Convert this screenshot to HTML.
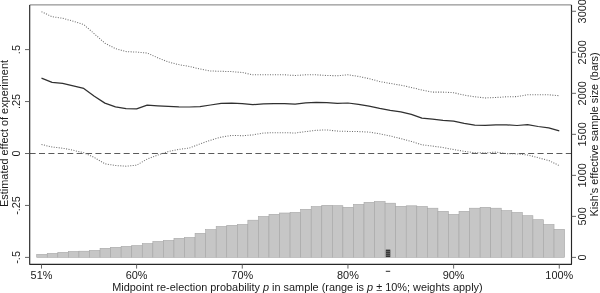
<!DOCTYPE html>
<html><head><meta charset="utf-8"><style>
html,body{margin:0;padding:0;background:#fff;width:600px;height:293px;overflow:hidden}
svg{display:block;filter:grayscale(100%)}
text{font-family:"Liberation Sans",sans-serif;font-size:10.9px;fill:#1a1a1a}
</style></head><body>
<svg width="600" height="293" viewBox="0 0 600 293">
<rect width="600" height="293" fill="#fff"/>
<rect x="36.70" y="254.40" width="10.558" height="2.90" fill="#c6c6c6" stroke="#a6a6a6" stroke-width="0.6"/>
<rect x="47.26" y="253.40" width="10.558" height="3.90" fill="#c6c6c6" stroke="#a6a6a6" stroke-width="0.6"/>
<rect x="57.82" y="252.40" width="10.558" height="4.90" fill="#c6c6c6" stroke="#a6a6a6" stroke-width="0.6"/>
<rect x="68.37" y="251.50" width="10.558" height="5.80" fill="#c6c6c6" stroke="#a6a6a6" stroke-width="0.6"/>
<rect x="78.93" y="251.20" width="10.558" height="6.10" fill="#c6c6c6" stroke="#a6a6a6" stroke-width="0.6"/>
<rect x="89.49" y="250.40" width="10.558" height="6.90" fill="#c6c6c6" stroke="#a6a6a6" stroke-width="0.6"/>
<rect x="100.05" y="248.30" width="10.558" height="9.00" fill="#c6c6c6" stroke="#a6a6a6" stroke-width="0.6"/>
<rect x="110.61" y="247.30" width="10.558" height="10.00" fill="#c6c6c6" stroke="#a6a6a6" stroke-width="0.6"/>
<rect x="121.16" y="246.40" width="10.558" height="10.90" fill="#c6c6c6" stroke="#a6a6a6" stroke-width="0.6"/>
<rect x="131.72" y="245.60" width="10.558" height="11.70" fill="#c6c6c6" stroke="#a6a6a6" stroke-width="0.6"/>
<rect x="142.28" y="243.60" width="10.558" height="13.70" fill="#c6c6c6" stroke="#a6a6a6" stroke-width="0.6"/>
<rect x="152.84" y="241.50" width="10.558" height="15.80" fill="#c6c6c6" stroke="#a6a6a6" stroke-width="0.6"/>
<rect x="163.40" y="240.40" width="10.558" height="16.90" fill="#c6c6c6" stroke="#a6a6a6" stroke-width="0.6"/>
<rect x="173.95" y="238.40" width="10.558" height="18.90" fill="#c6c6c6" stroke="#a6a6a6" stroke-width="0.6"/>
<rect x="184.51" y="237.50" width="10.558" height="19.80" fill="#c6c6c6" stroke="#a6a6a6" stroke-width="0.6"/>
<rect x="195.07" y="233.30" width="10.558" height="24.00" fill="#c6c6c6" stroke="#a6a6a6" stroke-width="0.6"/>
<rect x="205.63" y="229.60" width="10.558" height="27.70" fill="#c6c6c6" stroke="#a6a6a6" stroke-width="0.6"/>
<rect x="216.19" y="226.50" width="10.558" height="30.80" fill="#c6c6c6" stroke="#a6a6a6" stroke-width="0.6"/>
<rect x="226.74" y="225.30" width="10.558" height="32.00" fill="#c6c6c6" stroke="#a6a6a6" stroke-width="0.6"/>
<rect x="237.30" y="224.50" width="10.558" height="32.80" fill="#c6c6c6" stroke="#a6a6a6" stroke-width="0.6"/>
<rect x="247.86" y="220.20" width="10.558" height="37.10" fill="#c6c6c6" stroke="#a6a6a6" stroke-width="0.6"/>
<rect x="258.42" y="216.50" width="10.558" height="40.80" fill="#c6c6c6" stroke="#a6a6a6" stroke-width="0.6"/>
<rect x="268.98" y="214.30" width="10.558" height="43.00" fill="#c6c6c6" stroke="#a6a6a6" stroke-width="0.6"/>
<rect x="279.53" y="213.00" width="10.558" height="44.30" fill="#c6c6c6" stroke="#a6a6a6" stroke-width="0.6"/>
<rect x="290.09" y="212.40" width="10.558" height="44.90" fill="#c6c6c6" stroke="#a6a6a6" stroke-width="0.6"/>
<rect x="300.65" y="209.30" width="10.558" height="48.00" fill="#c6c6c6" stroke="#a6a6a6" stroke-width="0.6"/>
<rect x="311.21" y="206.60" width="10.558" height="50.70" fill="#c6c6c6" stroke="#a6a6a6" stroke-width="0.6"/>
<rect x="321.77" y="205.30" width="10.558" height="52.00" fill="#c6c6c6" stroke="#a6a6a6" stroke-width="0.6"/>
<rect x="332.32" y="205.70" width="10.558" height="51.60" fill="#c6c6c6" stroke="#a6a6a6" stroke-width="0.6"/>
<rect x="342.88" y="207.30" width="10.558" height="50.00" fill="#c6c6c6" stroke="#a6a6a6" stroke-width="0.6"/>
<rect x="353.44" y="204.40" width="10.558" height="52.90" fill="#c6c6c6" stroke="#a6a6a6" stroke-width="0.6"/>
<rect x="364.00" y="202.30" width="10.558" height="55.00" fill="#c6c6c6" stroke="#a6a6a6" stroke-width="0.6"/>
<rect x="374.56" y="201.50" width="10.558" height="55.80" fill="#c6c6c6" stroke="#a6a6a6" stroke-width="0.6"/>
<rect x="385.11" y="203.20" width="10.558" height="54.10" fill="#c6c6c6" stroke="#a6a6a6" stroke-width="0.6"/>
<rect x="395.67" y="206.30" width="10.558" height="51.00" fill="#c6c6c6" stroke="#a6a6a6" stroke-width="0.6"/>
<rect x="406.23" y="205.80" width="10.558" height="51.50" fill="#c6c6c6" stroke="#a6a6a6" stroke-width="0.6"/>
<rect x="416.79" y="206.50" width="10.558" height="50.80" fill="#c6c6c6" stroke="#a6a6a6" stroke-width="0.6"/>
<rect x="427.35" y="208.20" width="10.558" height="49.10" fill="#c6c6c6" stroke="#a6a6a6" stroke-width="0.6"/>
<rect x="437.90" y="211.30" width="10.558" height="46.00" fill="#c6c6c6" stroke="#a6a6a6" stroke-width="0.6"/>
<rect x="448.46" y="214.40" width="10.558" height="42.90" fill="#c6c6c6" stroke="#a6a6a6" stroke-width="0.6"/>
<rect x="459.02" y="211.30" width="10.558" height="46.00" fill="#c6c6c6" stroke="#a6a6a6" stroke-width="0.6"/>
<rect x="469.58" y="208.20" width="10.558" height="49.10" fill="#c6c6c6" stroke="#a6a6a6" stroke-width="0.6"/>
<rect x="480.14" y="207.30" width="10.558" height="50.00" fill="#c6c6c6" stroke="#a6a6a6" stroke-width="0.6"/>
<rect x="490.69" y="208.20" width="10.558" height="49.10" fill="#c6c6c6" stroke="#a6a6a6" stroke-width="0.6"/>
<rect x="501.25" y="210.60" width="10.558" height="46.70" fill="#c6c6c6" stroke="#a6a6a6" stroke-width="0.6"/>
<rect x="511.81" y="212.50" width="10.558" height="44.80" fill="#c6c6c6" stroke="#a6a6a6" stroke-width="0.6"/>
<rect x="522.37" y="215.70" width="10.558" height="41.60" fill="#c6c6c6" stroke="#a6a6a6" stroke-width="0.6"/>
<rect x="532.93" y="219.70" width="10.558" height="37.60" fill="#c6c6c6" stroke="#a6a6a6" stroke-width="0.6"/>
<rect x="543.48" y="224.50" width="10.558" height="32.80" fill="#c6c6c6" stroke="#a6a6a6" stroke-width="0.6"/>
<rect x="554.04" y="229.30" width="10.558" height="28.00" fill="#c6c6c6" stroke="#a6a6a6" stroke-width="0.6"/>
<rect x="385.8" y="249.6" width="4.5" height="7.5" fill="#333"/>
<line x1="385.8" x2="390.3" y1="251.5" y2="251.5" stroke="#8a8a8a" stroke-width="0.55"/>
<line x1="385.8" x2="390.3" y1="253.4" y2="253.4" stroke="#8a8a8a" stroke-width="0.55"/>
<line x1="385.8" x2="390.3" y1="255.3" y2="255.3" stroke="#8a8a8a" stroke-width="0.55"/>
<line x1="29.7" x2="571.5" y1="153.5" y2="153.5" stroke="#5a5a5a" stroke-width="1.1" stroke-dasharray="6.0 3.407" stroke-dashoffset="0.1"/>
<polyline points="41.50,11.70 52.07,16.70 62.63,18.30 73.20,21.20 83.77,24.60 94.34,33.80 104.90,43.20 115.47,48.60 126.04,51.60 136.60,52.10 147.17,53.00 157.74,57.80 168.30,62.00 178.87,64.60 189.44,66.50 200.00,69.00 210.57,71.00 221.14,71.30 231.71,71.60 242.27,72.50 252.84,74.80 263.41,74.80 273.97,74.80 284.54,74.80 295.11,75.50 305.68,74.80 316.24,74.80 326.81,75.50 337.38,75.70 347.94,74.80 358.51,76.40 369.08,78.60 379.64,81.60 390.21,83.40 400.78,85.20 411.35,87.50 421.91,90.00 432.48,92.10 443.05,92.10 453.61,92.70 464.18,95.20 474.75,96.80 485.31,97.90 495.88,97.50 506.45,96.80 517.01,96.60 527.58,94.80 538.15,94.80 548.72,94.80 559.28,95.70" fill="none" stroke="#707070" stroke-width="1.05" stroke-dasharray="1.05 1.45"/>
<polyline points="41.50,144.50 52.07,147.00 62.63,148.20 73.20,150.30 83.77,152.70 94.34,157.50 104.90,163.80 115.47,165.50 126.04,166.20 136.60,165.20 147.17,159.10 157.74,155.00 168.30,151.60 178.87,149.40 189.44,148.00 200.00,143.90 210.57,140.20 221.14,137.10 231.71,135.40 242.27,135.70 252.84,134.90 263.41,133.00 273.97,132.70 284.54,132.70 295.11,133.00 305.68,131.60 316.24,130.30 326.81,129.90 337.38,131.10 347.94,131.40 358.51,131.60 369.08,132.10 379.64,133.80 390.21,136.00 400.78,138.60 411.35,141.40 421.91,144.80 432.48,146.10 443.05,147.50 453.61,149.60 464.18,151.30 474.75,152.80 485.31,152.90 495.88,152.10 506.45,153.60 517.01,153.90 527.58,155.00 538.15,157.70 548.72,160.50 559.28,165.60" fill="none" stroke="#707070" stroke-width="1.05" stroke-dasharray="1.05 1.45"/>
<polyline points="41.50,78.20 52.07,82.30 62.63,83.40 73.20,85.90 83.77,88.40 94.34,96.30 104.90,103.10 115.47,106.90 126.04,108.70 136.60,108.90 147.17,105.10 157.74,105.80 168.30,106.40 178.87,106.90 189.44,107.00 200.00,106.60 210.57,105.00 221.14,103.40 231.71,103.20 242.27,103.60 252.84,104.70 263.41,103.90 273.97,103.60 284.54,103.70 295.11,104.20 305.68,102.90 316.24,102.40 326.81,102.60 337.38,103.40 347.94,103.00 358.51,104.30 369.08,106.20 379.64,108.40 390.21,110.30 400.78,111.80 411.35,114.30 421.91,118.20 432.48,119.20 443.05,120.30 453.61,121.10 464.18,123.30 474.75,125.10 485.31,125.40 495.88,124.80 506.45,124.90 517.01,125.50 527.58,124.60 538.15,126.50 548.72,127.90 559.28,130.90" fill="none" stroke="#303030" stroke-width="1.25" stroke-linejoin="round"/>
<line x1="29.7" x2="571.5" y1="4.9" y2="4.9" stroke="#7a7a7a" stroke-width="1"/>
<path d="M29.7,4.9 V264.3 H571.5 V4.9" fill="none" stroke="#262626" stroke-width="1.15" stroke-linejoin="round"/>
<line x1="25" x2="29.7" y1="49.60" y2="49.60" stroke="#555" stroke-width="0.9"/>
<text transform="translate(19.7,49.60) rotate(-90)" text-anchor="middle">.5</text>
<line x1="25" x2="29.7" y1="101.55" y2="101.55" stroke="#555" stroke-width="0.9"/>
<text transform="translate(19.7,101.55) rotate(-90)" text-anchor="middle">.25</text>
<line x1="25" x2="29.7" y1="153.50" y2="153.50" stroke="#555" stroke-width="0.9"/>
<text transform="translate(19.7,153.50) rotate(-90)" text-anchor="middle">0</text>
<line x1="25" x2="29.7" y1="205.45" y2="205.45" stroke="#555" stroke-width="0.9"/>
<text transform="translate(19.7,205.45) rotate(-90)" text-anchor="middle">-.25</text>
<line x1="25" x2="29.7" y1="257.40" y2="257.40" stroke="#555" stroke-width="0.9"/>
<text transform="translate(19.7,257.40) rotate(-90)" text-anchor="middle">-.5</text>
<line x1="571.5" x2="576" y1="257.40" y2="257.40" stroke="#555" stroke-width="0.9"/>
<text transform="translate(586,257.40) rotate(-90)" text-anchor="middle">0</text>
<line x1="571.5" x2="576" y1="216.38" y2="216.38" stroke="#555" stroke-width="0.9"/>
<text transform="translate(586,216.38) rotate(-90)" text-anchor="middle">500</text>
<line x1="571.5" x2="576" y1="175.36" y2="175.36" stroke="#555" stroke-width="0.9"/>
<text transform="translate(586,175.36) rotate(-90)" text-anchor="middle">1000</text>
<line x1="571.5" x2="576" y1="134.34" y2="134.34" stroke="#555" stroke-width="0.9"/>
<text transform="translate(586,134.34) rotate(-90)" text-anchor="middle">1500</text>
<line x1="571.5" x2="576" y1="93.32" y2="93.32" stroke="#555" stroke-width="0.9"/>
<text transform="translate(586,93.32) rotate(-90)" text-anchor="middle">2000</text>
<line x1="571.5" x2="576" y1="52.30" y2="52.30" stroke="#555" stroke-width="0.9"/>
<text transform="translate(586,52.30) rotate(-90)" text-anchor="middle">2500</text>
<line x1="571.5" x2="576" y1="11.28" y2="11.28" stroke="#555" stroke-width="0.9"/>
<text transform="translate(586,11.28) rotate(-90)" text-anchor="middle">3000</text>
<line x1="41.50" x2="41.50" y1="264.3" y2="268.6" stroke="#555" stroke-width="0.9"/>
<text x="41.50" y="278.7" text-anchor="middle">51%</text>
<line x1="136.60" x2="136.60" y1="264.3" y2="268.6" stroke="#555" stroke-width="0.9"/>
<text x="136.60" y="278.7" text-anchor="middle">60%</text>
<line x1="242.27" x2="242.27" y1="264.3" y2="268.6" stroke="#555" stroke-width="0.9"/>
<text x="242.27" y="278.7" text-anchor="middle">70%</text>
<line x1="347.94" x2="347.94" y1="264.3" y2="268.6" stroke="#555" stroke-width="0.9"/>
<text x="347.94" y="278.7" text-anchor="middle">80%</text>
<line x1="453.61" x2="453.61" y1="264.3" y2="268.6" stroke="#555" stroke-width="0.9"/>
<text x="453.61" y="278.7" text-anchor="middle">90%</text>
<line x1="559.28" x2="559.28" y1="264.3" y2="268.6" stroke="#555" stroke-width="0.9"/>
<text x="559.28" y="278.7" text-anchor="middle">100%</text>
<line x1="385.8" x2="390.2" y1="271.3" y2="271.3" stroke="#2a2a2a" stroke-width="1"/>
<text transform="translate(8.1,133.45) rotate(-90)" text-anchor="middle">Estimated effect of experiment</text>
<text transform="translate(597.6,134.4) rotate(-90)" text-anchor="middle">Kish's effective sample size (bars)</text>
<text x="297.45" y="290.8" text-anchor="middle">Midpoint re-election probability <tspan font-style="italic">p</tspan> in sample (range is <tspan font-style="italic">p</tspan> ± 10%; weights apply)</text>
</svg>
</body></html>
